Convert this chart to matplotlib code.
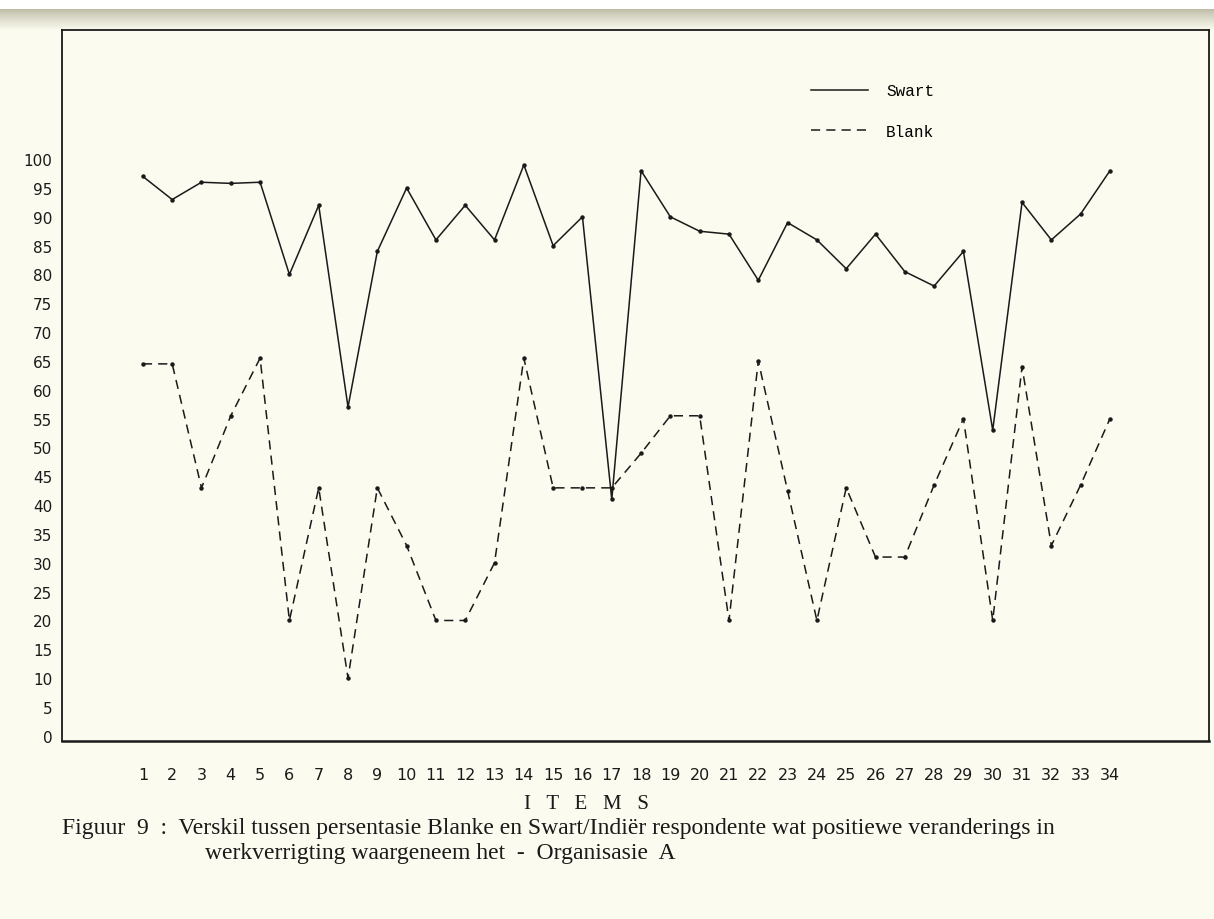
import matplotlib
matplotlib.use("Agg")
import matplotlib.pyplot as plt
import numpy as np
from matplotlib.colors import to_rgb
from matplotlib.lines import Line2D

# ---- data (percent of respondents) ----
items = list(range(1, 35))
swart = [97, 93, 96, 95.8, 96, 80, 92, 57, 84, 95,
         86, 92, 86, 99, 85, 90, 41, 98, 90, 87.5,
         87, 79, 89, 86, 81, 87, 80.5, 78, 84, 53,
         92.5, 86, 90.5, 98]
blank = [64.5, 64.5, 43, 55.5, 65.5, 20, 43, 10, 43, 33,
         20, 20, 30, 65.5, 43, 43, 43, 49, 55.5, 55.5,
         20, 65, 42.5, 20, 43, 31, 31, 43.5, 55, 20,
         64, 33, 43.5, 55]
yticks = list(range(0, 101, 5))
caption_1 = "Figuur  9  :  Verskil tussen persentasie Blanke en Swart/Indiër respondente wat positiewe veranderings in"
caption_2 = "werkverrigting waargeneem het  -  Organisasie  A"

PAPER = "#FBFBEF"
INK = "#1a1a1a"

fig = plt.figure(figsize=(12.14, 9.2), dpi=100, facecolor=PAPER)

# scanner shadow band along the top edge: white strip, then grey fading into the paper
band = fig.add_axes([0, 1 - 32 / 920, 1, 32 / 920], zorder=0)
paper = np.array(to_rgb(PAPER))
shade = np.array(to_rgb("#BDBBA6"))
t = np.linspace(0, 1, 22) ** 0.8
rows = [np.ones(3)] * 10 + [shade * (1 - f) + paper * f for f in t]
band.imshow(np.array(rows)[:, None, :], aspect="auto", extent=(0, 1, 0, 1),
            interpolation="nearest")
band.axis("off")

ax = fig.add_axes([62 / 1214, 1 - 742 / 920, 1147 / 1214, 711 / 920], zorder=1)
ax.set_facecolor("none")

ax.plot(items, swart, color=INK, lw=1.1, marker="o", ms=2.2, solid_joinstyle="miter")
ax.plot(items, blank, color=INK, lw=1.1, ls=(0, (6, 4)), marker="o", ms=2.2)

ax.set_xlim(-1.76, 37.38)
ax.set_ylim(-0.9, 122.4)
ax.set_xticks(items)
ax.set_xticklabels([str(i) for i in items], fontsize=11.5, family="DejaVu Sans")
ax.set_yticks(yticks)
ax.set_yticklabels([str(v) for v in yticks], fontsize=11, family="DejaVu Sans")
ax.tick_params(axis="both", length=0, colors=INK)
ax.tick_params(axis="x", pad=19)
ax.tick_params(axis="y", pad=7)
for s in ax.spines.values():
    s.set_color(INK)
    s.set_linewidth(1.3)
ax.spines["bottom"].set_linewidth(1.8)

handles = [Line2D([], [], color=INK, lw=1.1),
           Line2D([], [], color=INK, lw=1.1, ls=(0, (6, 4)))]
ax.legend(handles, ["Swart", "Blank"], loc="upper left", bbox_to_anchor=(0.653, 0.925),
          frameon=False, borderaxespad=0, borderpad=0, handlelength=3.6,
          handletextpad=1.1, labelspacing=1.6,
          prop={"family": "Liberation Mono", "size": 11.5})

fig.text(586 / 1214, 1 - 805 / 920, "I   T   E   M   S", ha="center", va="center",
         fontsize=15, family="Liberation Serif", color=INK)
fig.text(62 / 1214, 1 - 829 / 920, caption_1, ha="left", va="center",
         fontsize=17, family="Liberation Serif", color=INK)
fig.text(205 / 1214, 1 - 854 / 920, caption_2, ha="left", va="center",
         fontsize=17, family="Liberation Serif", color=INK)

fig.savefig("out.png", dpi=100, facecolor=PAPER)
